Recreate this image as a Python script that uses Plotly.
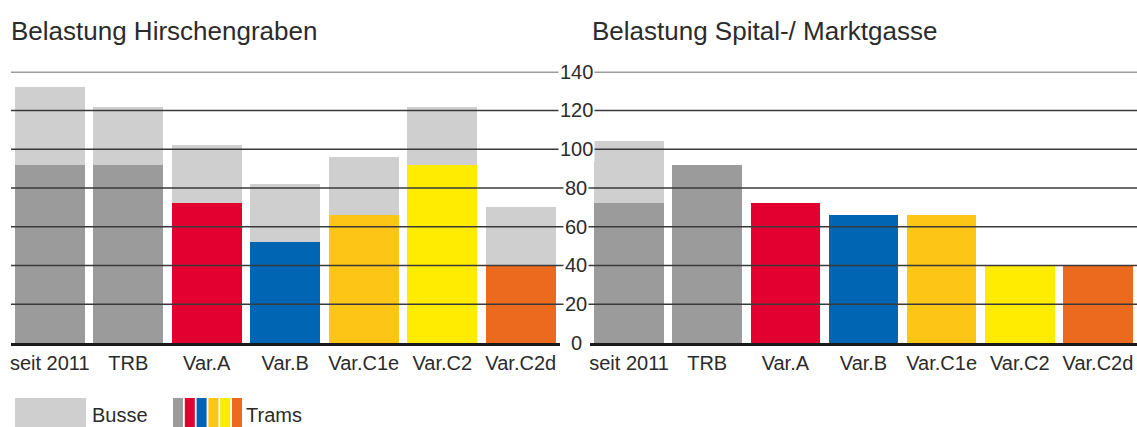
import plotly.graph_objects as go

# --- data -------------------------------------------------------------
categories = ["seit 2011", "TRB", "Var.A", "Var.B", "Var.C1e", "Var.C2", "Var.C2d"]

hirschengraben_trams = [92, 92, 72, 52, 66, 92, 40]
hirschengraben_busse = [40, 30, 30, 30, 30, 30, 30]

spital_trams = [72, 92, 72, 66, 66, 40, 40]
spital_busse = [32, 0, 0, 0, 0, 0, 0]

y_ticks = [0, 20, 40, 60, 80, 100, 120, 140]

tram_colors = ["#9b9b9b", "#9b9b9b", "#e30030", "#0065b3", "#fdc516", "#ffec00", "#ec6a1d"]
bus_color = "#cfcfcf"
legend_tram_colors = ["#9b9b9b", "#e30030", "#0065b3", "#fdc516", "#ffec00", "#ec6a1d"]

titles = ["Belastung Hirschengraben", "Belastung Spital-/ Marktgasse"]

# --- layout helpers ---------------------------------------------------
W, H = 1137, 427
def px(x):
    return x / W
def py(y):
    return 1 - y / H

FONT = "Liberation Sans, Arial, Helvetica, sans-serif"
TEXT = "#2b2b2b"

fig = go.Figure()

for trams, busse, xa, ya in [
    (hirschengraben_trams, hirschengraben_busse, "x", "y"),
    (spital_trams, spital_busse, "x2", "y2"),
]:
    fig.add_trace(go.Bar(x=categories, y=trams, marker=dict(color=tram_colors, line=dict(width=0)),
                         xaxis=xa, yaxis=ya, showlegend=False, name="Trams"))
    fig.add_trace(go.Bar(x=categories, y=busse, marker=dict(color=bus_color, line=dict(width=0)),
                         xaxis=xa, yaxis=ya, showlegend=False, name="Busse"))

ydom = [py(343), py(71.7)]
xaxis_common = dict(showline=True, linecolor="#1a1a1a", linewidth=2.5, ticks="", ticklen=0,
                    tickfont=dict(family=FONT, size=20, color=TEXT),
                    showgrid=False, zeroline=False, fixedrange=True)
yaxis_common = dict(range=[0, 140], showgrid=False, zeroline=False, showticklabels=False,
                    showline=False, domain=ydom, fixedrange=True)

fig.update_layout(
    width=W, height=H,
    margin=dict(l=0, r=0, t=0, b=0),
    paper_bgcolor="white", plot_bgcolor="white",
    barmode="stack", bargap=8.5 / 78.5,
    xaxis=dict(domain=[px(10.5), px(560)], anchor="y", **xaxis_common),
    yaxis=dict(anchor="x", **yaxis_common),
    xaxis2=dict(domain=[px(590), px(1137)], anchor="y2", **xaxis_common),
    yaxis2=dict(anchor="x2", **yaxis_common),
)

shapes = []
annotations = []

# horizontal grid lines drawn over the bars, shared by both panels
for v in y_ticks[1:]:
    shapes.append(dict(type="line", xref="paper", yref="y", x0=px(11), x1=px(1137), y0=v, y1=v,
                       line=dict(color="#3a3a3a", width=1.6), layer="above"))

# central value scale between the two panels
for v in y_ticks:
    annotations.append(dict(x=px(576), y=v, xref="paper", yref="y", text=str(v), showarrow=False,
                            xanchor="center", yanchor="middle", bgcolor="white", borderpad=1,
                            font=dict(family=FONT, size=20, color=TEXT)))

# panel titles
for t, x in zip(titles, [9, 590]):
    annotations.append(dict(x=px(x), y=py(31), xref="paper", yref="paper", text=t, showarrow=False,
                            xanchor="left", yanchor="middle",
                            font=dict(family=FONT, size=26, color=TEXT)))

# legend: Busse swatch + multi-colour Trams swatch
shapes.append(dict(type="rect", xref="paper", yref="paper", x0=px(15), x1=px(86), y0=py(427), y1=py(398),
                   fillcolor=bus_color, line=dict(width=0)))
annotations.append(dict(x=px(90), y=py(414.5), xref="paper", yref="paper", text="Busse", showarrow=False,
                        xanchor="left", yanchor="middle", font=dict(family=FONT, size=20, color=TEXT)))
x0 = 173
for c in legend_tram_colors:
    shapes.append(dict(type="rect", xref="paper", yref="paper", x0=px(x0), x1=px(x0 + 10), y0=py(427),
                       y1=py(398), fillcolor=c, line=dict(width=0)))
    x0 += 11.8
annotations.append(dict(x=px(244), y=py(414.5), xref="paper", yref="paper", text="Trams", showarrow=False,
                        xanchor="left", yanchor="middle", font=dict(family=FONT, size=20, color=TEXT)))

fig.update_layout(shapes=shapes, annotations=annotations)

fig.write_html("out.html")
